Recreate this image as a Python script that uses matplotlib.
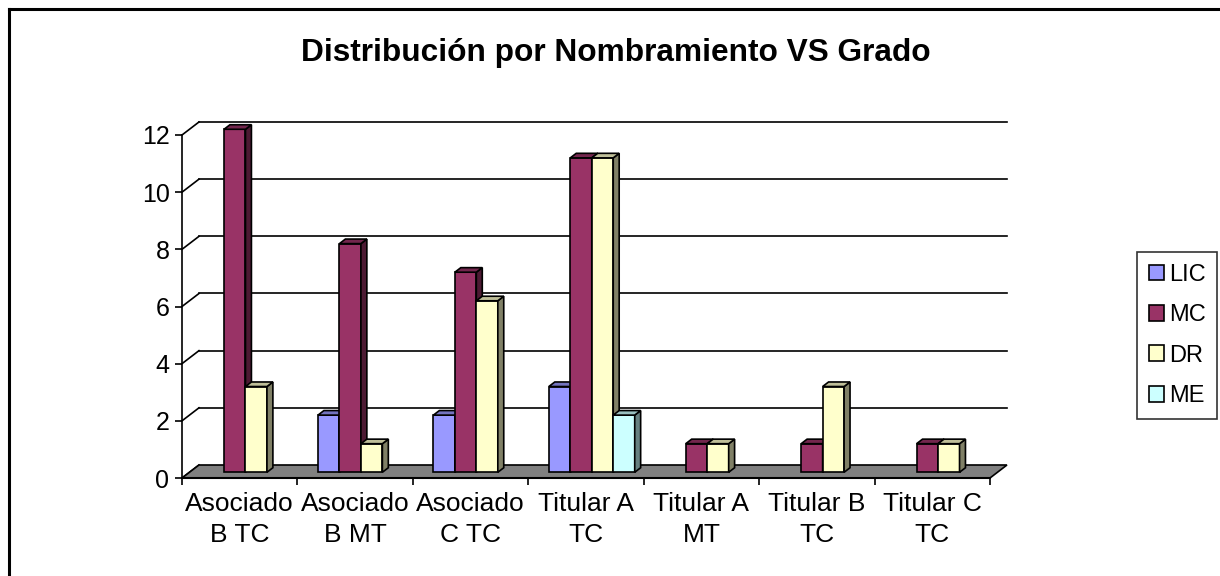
import matplotlib.pyplot as plt
from matplotlib.patches import Polygon, Patch
from matplotlib.lines import Line2D

plt.rcParams["font.family"] = ["Liberation Sans", "DejaVu Sans"]

categories = ["Asociado\nB TC", "Asociado\nB MT", "Asociado\nC TC", "Titular A\nTC",
              "Titular A\nMT", "Titular B\nTC", "Titular C\nTC"]
series = ["LIC", "MC", "DR", "ME"]
lic = [0, 2, 2, 3, 0, 0, 0]
mc = [12, 8, 7, 11, 1, 1, 1]
dr = [3, 1, 6, 11, 1, 3, 1]
me = [0, 0, 0, 2, 0, 0, 0]
values = [lic, mc, dr, me]

front = ["#9999FF", "#993366", "#FFFFCC", "#CCFFFF"]
side = ["#4D4D80", "#4D1A33", "#808066", "#668080"]
top = ["#7373BF", "#73264D", "#BFBF99", "#99BFBF"]

W, H = 1220, 576
fig = plt.figure(figsize=(W / 100, H / 100), dpi=100)
fig.patch.set_facecolor("white")

# front plane of the plot area in pixels
x0, x1, y0, y1 = 182, 990, 478, 135
ax = fig.add_axes([x0 / W, (H - y0) / H, (x1 - x0) / W, (y0 - y1) / H])
ax.set_xlim(0, 7)
ax.set_ylim(0, 12)
ax.set_facecolor("none")

# depth vector (data units)
ddx, ddy = 0.147, 0.455
n = len(categories)

# floor
floor = Polygon([(0, 0), (n, 0), (n + ddx, ddy), (ddx, ddy)], closed=True,
                facecolor="#808080", edgecolor="black", lw=1.2, clip_on=False, zorder=1)
ax.add_patch(floor)

# back wall gridlines + left wall diagonals
for v in range(2, 13, 2):
    ax.plot([ddx, n + ddx], [v + ddy, v + ddy], color="black", lw=1.2, clip_on=False, zorder=0.5)
for v in range(0, 13, 2):
    ax.plot([0, ddx], [v, v + ddy], color="black", lw=1.2, clip_on=False, zorder=0.5)

# bars
bw = 0.186
off = 0.178
base = 0.2
bdx, bdy = 0.35 * ddx, 0.35 * ddy
z = 2
for i in range(n):
    for j, vals in enumerate(values):
        v = vals[i]
        if v == 0:
            continue
        xl = i + off + j * bw
        xr = xl + bw
        yb = base
        yt = base + v
        ax.add_patch(Polygon([(xl, yb), (xr, yb), (xr, yt), (xl, yt)], closed=True,
                             facecolor=front[j], edgecolor="black", lw=1.2, clip_on=False, zorder=z))
        ax.add_patch(Polygon([(xr, yb), (xr + bdx, yb + bdy), (xr + bdx, yt + bdy), (xr, yt)],
                             closed=True, facecolor=side[j], edgecolor="black", lw=1.2,
                             clip_on=False, zorder=z))
        ax.add_patch(Polygon([(xl, yt), (xr, yt), (xr + bdx, yt + bdy), (xl + bdx, yt + bdy)],
                             closed=True, facecolor=top[j], edgecolor="black", lw=1.2,
                             clip_on=False, zorder=z))
        z += 0.01

# axes
for s in ["top", "right"]:
    ax.spines[s].set_visible(False)
ax.spines["left"].set_linewidth(1.2)
ax.spines["bottom"].set_linewidth(1.5)
ax.spines["left"].set_zorder(3)
ax.spines["bottom"].set_zorder(3)
ax.set_yticks(range(0, 13, 2))
ax.tick_params(axis="y", length=5, width=1.2, pad=4, labelsize=18)
ax.set_xticks(range(0, n + 1))
ax.set_xticklabels([])
ax.tick_params(axis="x", which="major", length=5, width=1.2)
ax.set_xticks([i + 0.5 for i in range(n)], minor=True)
ax.set_xticklabels(categories, minor=True, fontsize=19, linespacing=1.35)
ax.tick_params(axis="x", which="minor", length=0, pad=10)

fig.text(616 / W, 1 - 53 / H, "Distribución por Nombramiento VS Grado", ha="center",
         va="center", fontsize=22.8, fontweight="bold")

handles = [Patch(facecolor=front[j], edgecolor="black", lw=1.2) for j in range(len(series))]
leg = fig.legend(handles, series, loc="upper left", bbox_to_anchor=(1137 / W, 1 - 252 / H),
                 fontsize=17, frameon=True, fancybox=False, edgecolor="black",
                 handlelength=0.65, handleheight=0.65, handletextpad=0.2,
                 labelspacing=0.78, borderpad=0.5, borderaxespad=0)
leg.get_frame().set_linewidth(1.2)

# outer border (left and top visible)
fig.add_artist(Line2D([9 / W, 9 / W], [0, 1 - 9 / H], color="black", lw=2.2))
fig.add_artist(Line2D([9 / W, 1], [1 - 9 / H, 1 - 9 / H], color="black", lw=2.2))

fig.savefig("out.png", dpi=100)
